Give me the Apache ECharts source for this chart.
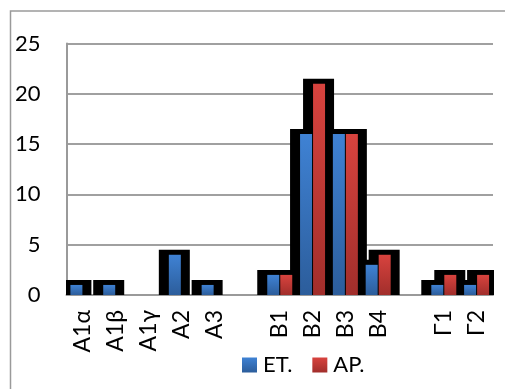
<!DOCTYPE html>
<html>
<head>
<meta charset="utf-8">
<script src="https://cdn.jsdelivr.net/npm/echarts@6/dist/echarts.min.js"></script>
<style>
  html, body { margin: 0; padding: 0; background: #fff; }
  #chart { width: 505px; height: 389px; }
</style>
</head>
<body>
<div id="chart"></div>
<script>
// Categories (empty strings are spacer slots between the groups)
const categories = ['A1α', 'A1β', 'A1γ', 'A2', 'A3', '', 'B1', 'B2', 'B3', 'B4', '', 'Γ1', 'Γ2'];
const seriesNames = ['ET.', 'AP.'];
const etValues = [1, 1, 0, 4, 1, null, 2, 16, 16, 3, null, 1, 1];
const apValues = [0, 0, 0, 0, 0, null, 2, 21, 16, 4, null, 2, 2];
const yTicks = [0, 5, 10, 15, 20, 25];

const FONT = 'Lato';
const BAR_W = 12;
const BAR_GAP = 1;

const blueFill = new echarts.graphic.LinearGradient(0, 0, 0, 1, [
  { offset: 0, color: '#3f82d4' },
  { offset: 1, color: '#2c5d9b' }
]);
const redFill = new echarts.graphic.LinearGradient(0, 0, 0, 1, [
  { offset: 0, color: '#d8433e' },
  { offset: 1, color: '#a12e2b' }
]);

// Dark backdrop behind each bar: [categoryIndex, value, seriesIndex]
const backdropData = [];
categories.forEach((c, i) => {
  backdropData.push([i, etValues[i], 0]);
  backdropData.push([i, apValues[i], 1]);
});

const chart = echarts.init(document.getElementById('chart'), null, { renderer: 'canvas' });

chart.setOption({
  animation: false,
  textStyle: { fontFamily: FONT },
  graphic: [{
    type: 'rect',
    shape: { x: 10.5, y: 11, width: 600, height: 500 },
    style: { fill: 'none', stroke: '#9a9a9a', lineWidth: 1.5 },
    z: -10
  }],
  grid: { left: 66.5, right: 12, top: 43.5, bottom: 94, containLabel: false },
  legend: {
    data: seriesNames,
    left: 237,
    top: 349,
    itemWidth: 15,
    itemHeight: 15,
    itemGap: 20,
    textStyle: { fontFamily: FONT, fontSize: 22, color: '#000', padding: [0, 0, 0, 1] },
    icon: 'rect'
  },
  xAxis: {
    type: 'category',
    data: categories,
    axisLine: { show: true, lineStyle: { color: '#9a9a9a', width: 2 } },
    axisTick: { show: false },
    axisLabel: {
      interval: 0,
      rotate: 90,
      margin: 15,
      fontFamily: FONT,
      fontSize: 23,
      color: '#000'
    }
  },
  yAxis: {
    type: 'value',
    min: yTicks[0],
    max: yTicks[yTicks.length - 1],
    interval: 5,
    axisLine: { show: true, lineStyle: { color: '#9a9a9a', width: 2 } },
    axisTick: { show: false },
    splitLine: { show: true, lineStyle: { color: '#a0a0a0', width: 2 } },
    axisLabel: {
      margin: 26,
      fontFamily: FONT,
      fontSize: 22,
      color: '#000'
    }
  },
  series: [
    {
      type: 'custom',
      name: 'backdrop',
      clip: true,
      z: 1,
      silent: true,
      encode: { x: 0, y: 1 },
      data: backdropData,
      renderItem(params, api) {
        const ci = api.value(0);
        const v = api.value(1);
        const s = api.value(2);
        if (!v) return null;
        const top = api.coord([ci, v]);
        const base = api.coord([ci, 0]);
        const half = BAR_W + BAR_GAP / 2;
        const barLeft = s === 0 ? top[0] - half : top[0] + BAR_GAP / 2;
        const barRight = barLeft + BAR_W;
        const x0 = barLeft - 10;
        const x1 = barRight + 9;
        return {
          type: 'rect',
          shape: { x: x0, y: top[1] - 5, width: x1 - x0, height: base[1] - top[1] + 5 },
          style: { fill: '#000' }
        };
      }
    },
    {
      type: 'bar',
      name: seriesNames[0],
      data: etValues,
      barWidth: BAR_W,
      barGap: (BAR_GAP / BAR_W * 100) + '%',
      z: 3,
      itemStyle: { color: blueFill }
    },
    {
      type: 'bar',
      name: seriesNames[1],
      data: apValues,
      barWidth: BAR_W,
      barGap: (BAR_GAP / BAR_W * 100) + '%',
      z: 3,
      itemStyle: { color: redFill }
    }
  ]
});
</script>
</body>
</html>
